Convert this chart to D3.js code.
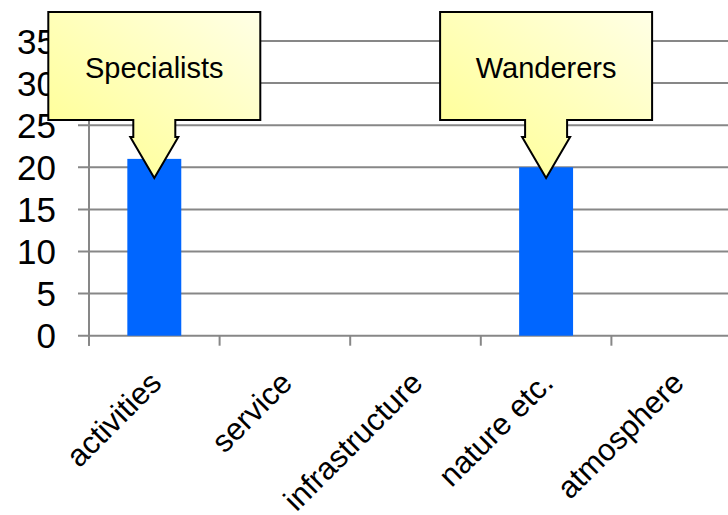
<!DOCTYPE html>
<html>
<head>
<meta charset="UTF-8">
<style>
  body { margin: 0; background: #fff; }
  svg { display: block; font-family: "Liberation Sans", Arial, sans-serif; }
</style>
</head>
<body>
<svg width="728" height="515"></svg>
<script src="https://d3js.org/d3.v7.min.js"></script>
<script>
const categories = ["activities", "service", "infrastructure", "nature etc.", "atmosphere"];
const values = [21, 0, 0, 20, 0];
const yTicks = [0, 5, 10, 15, 20, 25, 30, 35];
const callouts = [
  { category: "activities", label: "Specialists" },
  { category: "nature etc.", label: "Wanderers" }
];

const svg = d3.select("svg");
const x = d3.scaleBand().domain(categories).range([89, 742]);
const y = d3.scaleLinear().domain([0, 35]).range([335.7, 41]);

const defs = svg.append("defs");
const grad = defs.append("linearGradient")
  .attr("id", "callGrad")
  .attr("x1", "0%").attr("y1", "100%")
  .attr("x2", "100%").attr("y2", "0%");
grad.append("stop").attr("offset", "0%").attr("stop-color", "#ffff8c");
grad.append("stop").attr("offset", "100%").attr("stop-color", "#ffffe6");

// gridlines + y ticks
svg.append("g").selectAll("line").data(yTicks).join("line")
  .attr("x1", 78).attr("x2", 728)
  .attr("y1", d => y(d)).attr("y2", d => y(d))
  .attr("stroke", "#878787").attr("stroke-width", 2);

svg.append("g").selectAll("text").data(yTicks).join("text")
  .attr("x", 56).attr("y", d => y(d) + 12.5)
  .attr("text-anchor", "end")
  .attr("font-size", 35)
  .attr("fill", "#000")
  .text(d => d);

// y axis line
svg.append("line")
  .attr("x1", 89).attr("x2", 89)
  .attr("y1", y(35)).attr("y2", y(0) + 10)
  .attr("stroke", "#878787").attr("stroke-width", 2);

// x ticks at band edges
const edges = categories.map(c => x(c));
svg.append("g").selectAll("line").data(edges).join("line")
  .attr("x1", d => d).attr("x2", d => d)
  .attr("y1", y(0)).attr("y2", y(0) + 10)
  .attr("stroke", "#878787").attr("stroke-width", 2);

// bars
const bw = x.bandwidth() * 0.413;
svg.append("g").selectAll("rect").data(categories.map((c, i) => ({ c, v: values[i] })).filter(d => d.v > 0))
  .join("rect")
  .attr("x", d => x(d.c) + (x.bandwidth() - bw) / 2)
  .attr("width", bw)
  .attr("y", d => y(d.v))
  .attr("height", d => y(0) - y(d.v))
  .attr("fill", "#0066ff");

// category labels
svg.append("g").selectAll("text").data(categories).join("text")
  .attr("transform", d => `translate(${x(d) + x.bandwidth() / 2 + 9},${y(0) + 49}) rotate(-45)`)
  .attr("text-anchor", "end")
  .attr("font-size", 31)
  .attr("fill", "#000")
  .text(d => d);

// callouts
const boxW = 212, boxTop = 12, boxBottom = 120, stemHalf = 21, wingHalf = 24, neck = 137, tipY = 178;
const cg = svg.append("g").selectAll("g").data(callouts).join("g")
  .attr("transform", d => `translate(${x(d.category) + x.bandwidth() / 2},0)`);
cg.append("path")
  .attr("d", `M${-boxW / 2},${boxTop} H${boxW / 2} V${boxBottom} H${stemHalf} V${neck} H${wingHalf} L0,${tipY} L${-wingHalf},${neck} H${-stemHalf} V${boxBottom} H${-boxW / 2} Z`)
  .attr("fill", "url(#callGrad)")
  .attr("stroke", "#000")
  .attr("stroke-width", 2)
  .attr("stroke-linejoin", "miter");
cg.append("text")
  .attr("x", 0).attr("y", 78)
  .attr("text-anchor", "middle")
  .attr("font-size", 29)
  .attr("fill", "#000")
  .text(d => d.label);
</script>
</body>
</html>
